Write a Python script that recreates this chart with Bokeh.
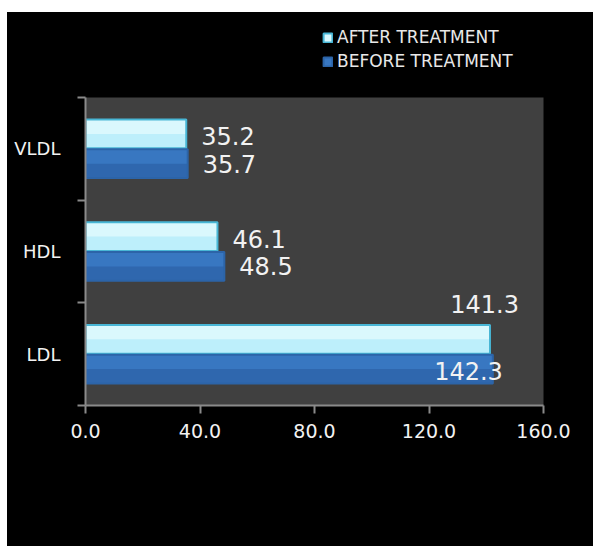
from bokeh.plotting import figure
from bokeh.layouts import column
from bokeh.models import (Range1d, FixedTicker, ColumnDataSource, LabelSet, Legend, LegendItem)
from bokeh.core.properties import value
from bokeh.transform import dodge
from bokeh.embed import file_html
from bokeh.resources import INLINE

# ---- data ----
categories = ["LDL", "HDL", "VLDL"]
after_treatment = [141.3, 46.1, 35.2]
before_treatment = [142.3, 48.5, 35.7]
x_ticks = [0, 40, 80, 120, 160]
x_tick_labels = ["0.0", "40.0", "80.0", "120.0", "160.0"]
series_names = ["AFTER TREATMENT", "BEFORE TREATMENT"]

X_MAX = 160
FONT = "DejaVu Sans"
AFTER_FILL, AFTER_HI, AFTER_LINE = "#bdeffb", "#daf8fd", "#48b6d5"
BEFORE_FILL, BEFORE_HI, BEFORE_LINE = "#2f67ae", "#3877c1", "#2c64a8"
BLACK_BG = {"background-color": "black"}

idx = list(range(len(categories)))
src = ColumnDataSource(dict(idx=idx, cat=categories, after=after_treatment, before=before_treatment))

# ---- legend strip (above the plot); its bar renderers are hidden, only the legend shows ----
top = figure(width=586, height=80, x_range=Range1d(0, X_MAX), y_range=Range1d(-0.5, len(categories) - 0.5),
             output_backend="svg", toolbar_location=None,
             min_border_left=78, min_border_right=50, min_border_top=0, min_border_bottom=0)
top.axis.visible = False
top.grid.visible = False
top.border_fill_color = "black"
top.background_fill_color = "black"
top.outline_line_color = None
top.margin = 0
top.styles = BLACK_BG
d_after = top.hbar(y="idx", right="after", height=0.28, source=src,
                   fill_color=AFTER_HI, line_color=AFTER_LINE, line_width=2, visible=False)
d_before = top.hbar(y="idx", right="before", height=0.28, source=src,
                    fill_color=BEFORE_HI, line_color=BEFORE_LINE, line_width=2, visible=False)
legend = Legend(items=[LegendItem(label=series_names[0], renderers=[d_after]),
                       LegendItem(label=series_names[1], renderers=[d_before])],
                location=(237, 21), orientation="vertical", click_policy="none",
                background_fill_alpha=0, border_line_alpha=0,
                label_text_color="#e8e8e8", label_text_font=FONT, label_text_font_size="17px",
                glyph_width=11, glyph_height=11, label_height=20, spacing=4, label_standoff=4,
                padding=0, margin=0)
top.add_layout(legend, "center")

# ---- main chart ----
main = figure(width=586, height=454, x_range=Range1d(0, X_MAX), y_range=Range1d(-0.5, len(categories) - 0.5),
              output_backend="svg", toolbar_location=None,
              min_border_left=78, min_border_right=50, min_border_top=5, min_border_bottom=141)
main.margin = 0
main.styles = BLACK_BG
main.border_fill_color = "black"
main.background_fill_color = "#404040"
main.outline_line_color = None
main.xgrid.visible = False
main.ygrid.visible = False

BAR_H = 0.28
OFF = 0.145
for field, off, fill, hi, line in (("after", OFF, AFTER_FILL, AFTER_HI, AFTER_LINE),
                                   ("before", -OFF, BEFORE_FILL, BEFORE_HI, BEFORE_LINE)):
    main.hbar(y=dodge("idx", off, range=main.y_range), right=field, left=0, height=BAR_H, source=src,
              fill_color=fill, line_color=None)
    main.hbar(y=dodge("idx", off + BAR_H / 4, range=main.y_range), right=field, left=0, height=BAR_H / 2,
              source=src, fill_color=hi, line_color=None)
    main.hbar(y=dodge("idx", off, range=main.y_range), right=field, left=0, height=BAR_H, source=src,
              fill_color=None, line_color=line, line_width=2)

# value labels: right of the bar, or alternative placement when too close to the end of the axis
def label_cols(vals, kind):
    xo, yo, al = [], [], []
    for v in vals:
        if X_MAX - v < 30:
            al.append("right")
            if kind == "after":
                xo.append(29); yo.append(35)
            else:
                xo.append(10); yo.append(-2)
        else:
            al.append("left"); xo.append(15); yo.append(-2 if kind == "after" else 0)
    return xo, yo, al

for kind, vals, off in (("after", after_treatment, OFF), ("before", before_treatment, -OFF)):
    xo, yo, al = label_cols(vals, kind)
    ls_src = ColumnDataSource(dict(idx=idx, v=vals, t=["%.1f" % v for v in vals], xo=xo, yo=yo, al=al))
    main.add_layout(LabelSet(x="v", y=dodge("idx", off, range=main.y_range), text="t", source=ls_src,
                             x_offset="xo", y_offset="yo", text_align="al", text_baseline="middle",
                             text_color="#f2f2f2", text_font=value(FONT), text_font_size="24px"))

AX = "#8a8a8a"
xa = main.xaxis[0]
xa.ticker = FixedTicker(ticks=x_ticks, minor_ticks=[])
xa.major_label_overrides = {t: l for t, l in zip(x_ticks, x_tick_labels)}
xa.axis_line_color = AX
xa.axis_line_width = 2
xa.major_tick_line_color = AX
xa.major_tick_line_width = 2
xa.major_tick_out = 8
xa.major_tick_in = 0
xa.minor_tick_line_color = None
xa.major_label_text_color = "#f2f2f2"
xa.major_label_text_font = FONT
xa.major_label_text_font_size = "19px"
xa.major_label_standoff = 10

ya = main.yaxis[0]
ya.ticker = FixedTicker(ticks=idx, minor_ticks=[i - 0.5 for i in range(len(categories) + 1)])
ya.major_label_overrides = {i: c for i, c in zip(idx, categories)}
ya.axis_line_color = AX
ya.axis_line_width = 2
ya.major_tick_line_color = None
ya.major_tick_out = 0
ya.major_tick_in = 0
ya.minor_tick_line_color = AX
ya.minor_tick_line_width = 2
ya.minor_tick_out = 8
ya.minor_tick_in = 0
ya.major_label_text_color = "#f2f2f2"
ya.major_label_text_font = FONT
ya.major_label_text_font_size = "18px"
ya.major_label_standoff = 17

p = column(top, main, spacing=0)
p.margin = (12, 0, 0, 7)
p.styles = BLACK_BG

open("out.html", "w").write(file_html(p, INLINE))
